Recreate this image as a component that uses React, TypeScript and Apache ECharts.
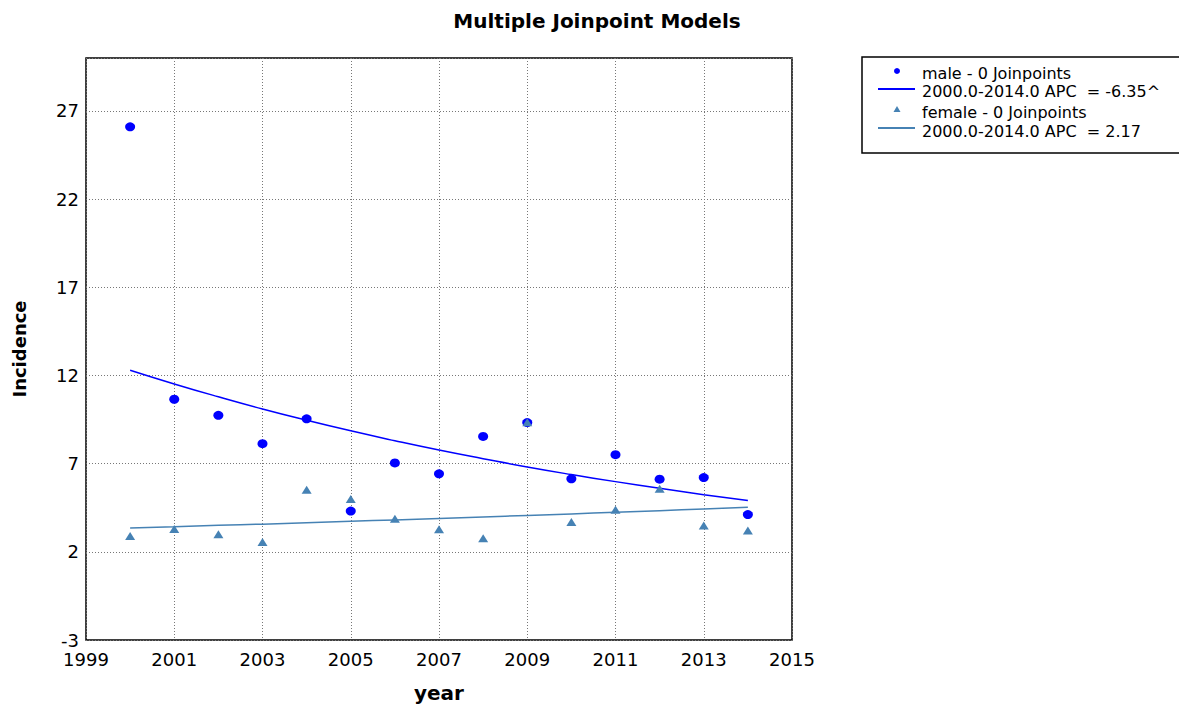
import React, { useEffect, useRef } from "react";
import * as echarts from "echarts";

const years = [2000, 2001, 2002, 2003, 2004, 2005, 2006, 2007, 2008, 2009, 2010, 2011, 2012, 2013, 2014];
const maleObserved = [26.1, 10.65, 9.74, 8.13, 9.54, 4.31, 7.04, 6.42, 8.54, 9.33, 6.14, 7.51, 6.12, 6.21, 4.11];
const femaleObserved = [2.9, 3.3, 3.0, 2.56, 5.52, 4.99, 3.88, 3.28, 2.77, 9.35, 3.69, 4.39, 5.57, 3.49, 3.21];
const maleModel = [12.3, 11.52, 10.79, 10.1, 9.46, 8.86, 8.3, 7.77, 7.28, 6.81, 6.38, 5.98, 5.6, 5.24, 4.91];
const femaleModel = [3.35, 3.42, 3.5, 3.57, 3.65, 3.73, 3.81, 3.89, 3.98, 4.06, 4.15, 4.24, 4.33, 4.43, 4.53];
const legendLabels = [
  "male - 0 Joinpoints",
  "2000.0-2014.0 APC  = -6.35^",
  "female - 0 Joinpoints",
  "2000.0-2014.0 APC  = 2.17",
];

const MALE = "#0000ff";
const FEMALE = "#4682b4";
const FONT = "'DejaVu Sans', 'Liberation Sans', Arial, sans-serif";

export default function App() {
  const ref = useRef<HTMLDivElement>(null);
  useEffect(() => {
    if (!ref.current) return;
    const chart = echarts.init(ref.current, null, { renderer: "svg" });
    const pairs = (ys: number[]) => years.map((x, i) => [x, ys[i]]);
    const legendRowY = [73, 91, 112, 131];
    chart.setOption({
      animation: false,
      backgroundColor: "#ffffff",
      title: {
        text: "Multiple Joinpoint Models",
        left: 592,
        top: 6,
        textAlign: "center",
        textStyle: {
          fontFamily: FONT,
          fontWeight: "bold",
          fontSize: 20,
          color: "#000",
        },
      },
      grid: { left: 86, top: 58, right: 387, bottom: 51, show: true, borderColor: "#000", borderWidth: 1.5, backgroundColor: "transparent" },
      xAxis: {
        type: "value",
        min: 1999,
        max: 2015,
        interval: 2,
        name: "year",
        nameLocation: "middle",
        nameGap: 43,
        nameTextStyle: { fontFamily: FONT, fontWeight: "bold", fontSize: 20, color: "#000" },
        axisLine: { show: false },
        axisTick: { show: false },
        axisLabel: { fontFamily: FONT, fontSize: 18, color: "#000", margin: 10, formatter: (v: number) => String(v) },
        splitLine: { show: true, lineStyle: { color: "#777", type: [1, 2], width: 1 } },
      },
      yAxis: {
        type: "value",
        min: -3,
        max: 30,
        interval: 5,
        name: "Incidence",
        nameLocation: "middle",
        nameGap: 58,
        nameTextStyle: { fontFamily: FONT, fontWeight: "bold", fontSize: 18, color: "#000" },
        axisLine: { show: false },
        axisTick: { show: false },
        axisLabel: { fontFamily: FONT, fontSize: 18, color: "#000", margin: 7, showMaxLabel: false },
        splitLine: { show: true, lineStyle: { color: "#777", type: [1, 2], width: 1 } },
      },
      series: [
        {
          name: "male model",
          type: "line",
          data: pairs(maleModel),
          showSymbol: false,
          smooth: true,
          lineStyle: { color: MALE, width: 1.5 },
          z: 2,
        },
        {
          name: "female model",
          type: "line",
          data: pairs(femaleModel),
          showSymbol: false,
          smooth: true,
          lineStyle: { color: FEMALE, width: 1.5 },
          z: 2,
        },
        {
          name: "male",
          type: "scatter",
          data: pairs(maleObserved),
          symbol: "circle",
          symbolSize: [10, 9],
          itemStyle: { color: MALE, opacity: 1 },
          z: 3,
        },
        {
          name: "female",
          type: "scatter",
          data: pairs(femaleObserved),
          symbol: "triangle",
          symbolSize: [10, 8],
          itemStyle: { color: FEMALE, opacity: 1 },
          z: 4,
        },
      ],
      graphic: [
        { type: "rect", shape: { x: 862, y: 57, width: 330, height: 96 }, style: { fill: "#fff", stroke: "#000", lineWidth: 1.5 } },
        { type: "circle", shape: { cx: 897, cy: 71, r: 3 }, style: { fill: MALE } },
        { type: "line", shape: { x1: 878, y1: 89, x2: 915, y2: 89 }, style: { stroke: MALE, lineWidth: 2 } },
        { type: "polygon", shape: { points: [[897, 106], [893.5, 112], [900.5, 112]] }, style: { fill: FEMALE } },
        { type: "line", shape: { x1: 878, y1: 128, x2: 915, y2: 128 }, style: { stroke: FEMALE, lineWidth: 2 } },
        ...legendLabels.map((t, i) => ({
          type: "text",
          x: 922,
          y: legendRowY[i],
          style: { text: t, fontFamily: FONT, fontSize: 16, fill: "#000", verticalAlign: "middle" },
        })),
      ],
    });
    return () => chart.dispose();
  }, []);
  return <div ref={ref} style={{ position: "fixed", left: 0, top: 0, width: 1179, height: 708 }} />;
}
